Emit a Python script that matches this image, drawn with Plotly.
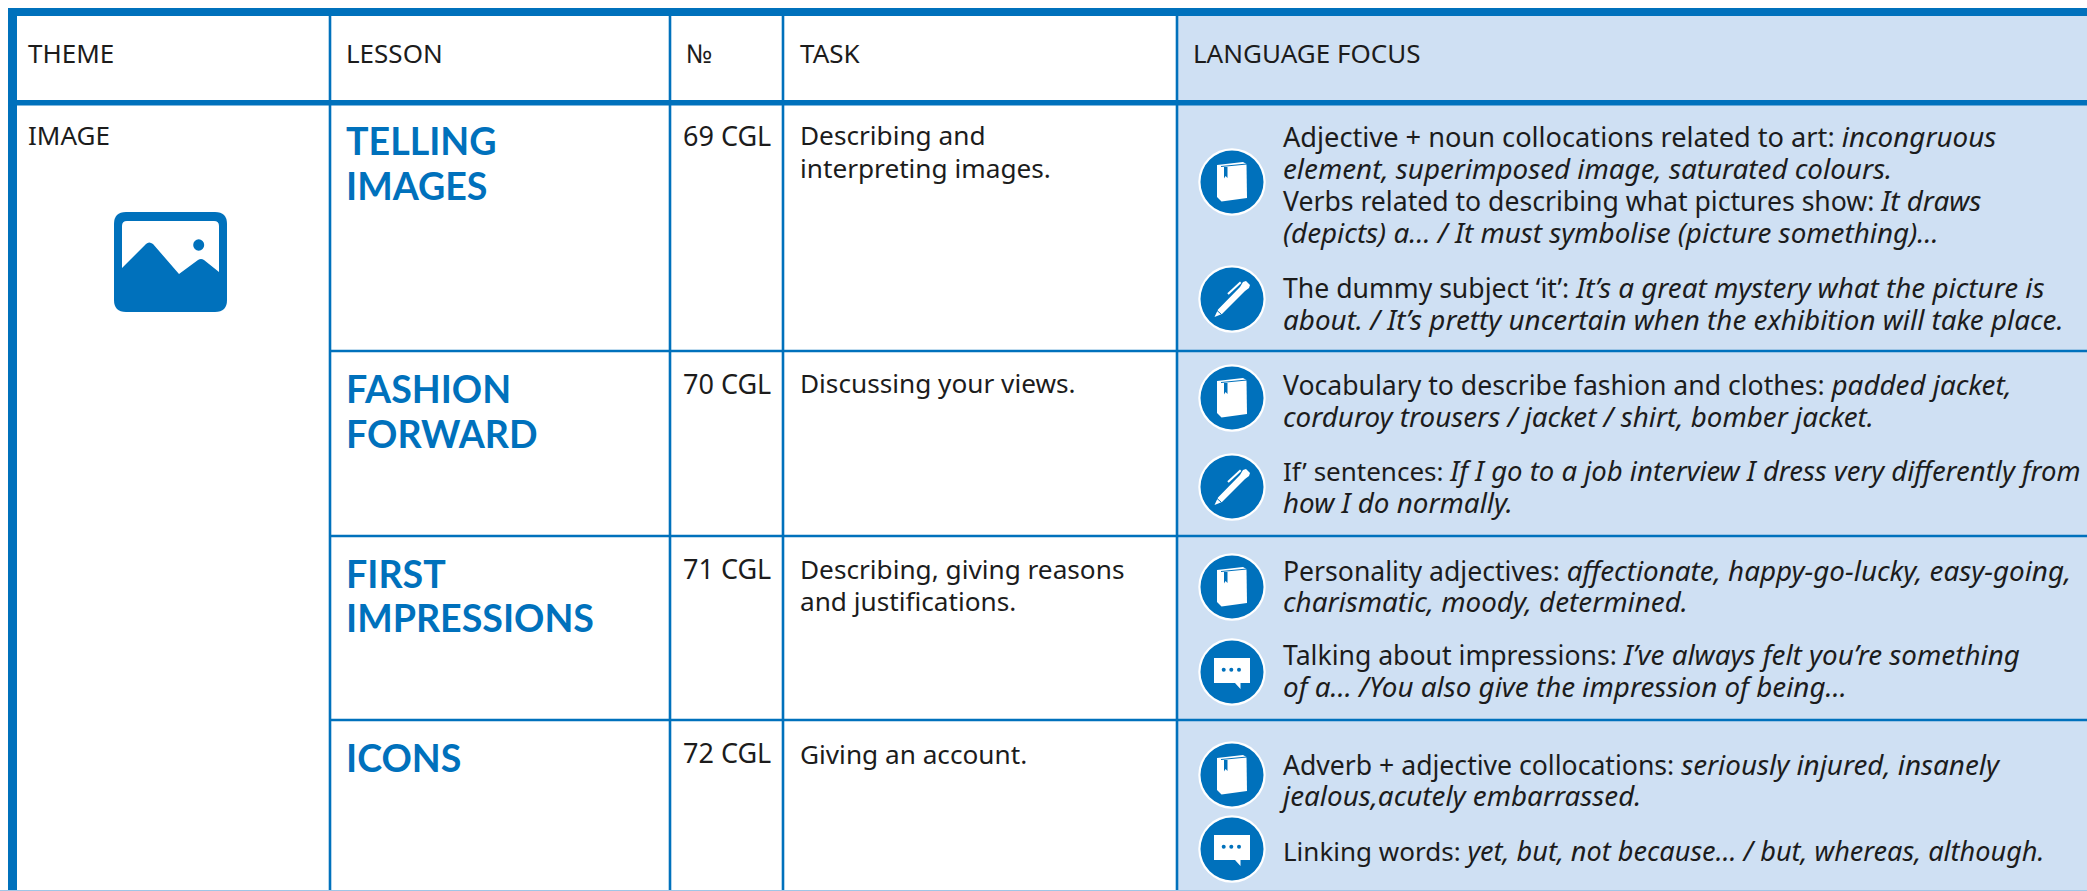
import plotly.graph_objects as go

# ---------- content ----------
HEADERS = ["THEME", "LESSON", "№", "TASK", "LANGUAGE FOCUS"]
THEME = "IMAGE"
LESSON_LINES = ["TELLING", "IMAGES", "FASHION", "FORWARD", "FIRST", "IMPRESSIONS", "ICONS"]
CODES = ["69 CGL", "70 CGL", "71 CGL", "72 CGL"]
TASK_LINES = ["Describing and", "interpreting images.", "Discussing your views.",
              "Describing, giving reasons", "and justifications.", "Giving an account."]
FOCUS_LINES = [
    "Adjective + noun collocations related to art: <i>incongruous</i>",
    "<i>element, superimposed image, saturated colours.</i>",
    "Verbs related to describing what pictures show: <i>It draws</i>",
    "<i>(depicts) a… / It must symbolise (picture something)…</i>",
    "The dummy subject ‘it’: <i>It’s a great mystery what the picture is</i>",
    "<i>about. / It’s pretty uncertain when the exhibition will take place.</i>",
    "Vocabulary to describe fashion and clothes: <i>padded jacket,</i>",
    "<i>corduroy trousers / jacket / shirt, bomber jacket.</i>",
    "If’ sentences: <i>If I go to a job interview I dress very differently from</i>",
    "<i>how I do normally.</i>",
    "Personality adjectives: <i>affectionate, happy-go-lucky, easy-going,</i>",
    "<i>charismatic, moody, determined.</i>",
    "Talking about impressions: <i>I’ve always felt you’re something</i>",
    "<i>of a… /You also give the impression of being…</i>",
    "Adverb + adjective collocations: <i>seriously injured, insanely</i>",
    "<i>jealous,acutely embarrassed.</i>",
    "Linking words: <i>yet, but, not because… / but, whereas, although.</i>",
]
ICON_KINDS = ["book", "pen", "book", "pen", "book", "bubble", "book", "bubble"]

# ---------- layout ----------
W, H = 2087, 891
BLUE, PALE, INK = "#0071bc", "#cfe0f3", "#1c1c1c"
COL_X = [330, 670, 783, 1177]
ROW_Y = [351, 536, 720]
HEADER_X = [26, 344, 684, 798, 1191]
CODE_X = 681
BODY_X = 1281
LESSON_Y = [140, 185, 388, 433, 573, 617, 757]
CODE_Y = [135, 383, 568, 752]
TASK_Y = [135, 168, 383, 569, 601, 754]
FOCUS_Y = [136, 168, 200, 232, 286.5, 318.5, 384, 416, 470, 502, 570, 601, 654, 686, 764, 795, 850]
FOCUS_DX = [0] * 15 + [-4, 0]
FOCUS_SIZE = [27.2] + [26.6] * 7 + [26.0] + [26.6] * 7 + [26.0]
FOCUS_ITALIC = [27.8] * 8 + [27.5] + [27.8] * 7 + [27.1]
ICON_X = 1232
ICON_Y = [182, 299, 398, 487, 587, 672, 775, 849]
BODY_FONT = "Noto Sans"
HEADER_SIZE = 26
TASK_SIZE = 26.2
CODE_SIZE = 27
LESSON_SIZE = 37.6

fig = go.Figure()
shapes, notes = [], []


def rect(x0, y0, x1, y1, color, layer="above"):
    shapes.append(dict(type="rect", xref="x", yref="y", x0=x0, y0=y0, x1=x1, y1=y1,
                       fillcolor=color, line_width=0, layer=layer))


def path(points, color, cx=0, cy=0, closed=True, width=0):
    d = "M" + " L".join(f"{cx + px},{cy + py}" for px, py in points) + (" Z" if closed else "")
    shapes.append(dict(type="path", xref="x", yref="y", path=d,
                       fillcolor=color if closed else None,
                       line=dict(color=color, width=width)))


def disc(cx, cy, r, color, ry=None):
    ry = r if ry is None else ry
    shapes.append(dict(type="circle", xref="x", yref="y", x0=cx - r, x1=cx + r, y0=cy - ry, y1=cy + ry,
                       fillcolor=color, line_width=0))


def text(x, y, s, size, color=INK, family=BODY_FONT):
    notes.append(dict(x=x, y=y, xref="x", yref="y", text=s, showarrow=False, xanchor="left",
                      yanchor="middle", align="left", font=dict(family=family, size=size, color=color)))


# panels and rules
rect(COL_X[3], 16, W, H, PALE, "below")
rect(8, 8, W, 16, BLUE)
rect(8, 8, 17, H, BLUE)
rect(8, 100, W, 105.5, BLUE)
for x in COL_X:
    rect(x - 1.3, 16, x + 1.3, H, BLUE)
for y in ROW_Y:
    rect(COL_X[0], y - 1.3, W, y + 1.3, BLUE)
rect(0, 890, W, H, "#9fc6e6")

# theme picture
shapes.append(dict(type="path", xref="x", yref="y", fillcolor=BLUE, line_width=0,
                   path="M126,212 L215,212 Q227,212 227,224 L227,300 Q227,312 215,312 L126,312 "
                        "Q114,312 114,300 L114,224 Q114,212 126,212 Z"))
shapes.append(dict(type="path", xref="x", yref="y", fillcolor="white", line_width=0,
                   path="M127,221 L214,221 Q219,221 219,226 L219,272 L204,260 Q201,258 198,260 L179,274 "
                        "L153,244 Q149,241 146,244 L122,268 L122,226 Q122,221 127,221 Z"))
disc(198.7, 245, 5.5, BLUE, 5.8)

# line-art glyphs for the language-focus markers
BOOK = [(-15, -17), (11, -20), (14.5, -18), (15, 16), (-10.5, 19.5), (-15, 15)]
BOOK_LINE = [(-11, -15.5), (15, -18)]
BOOK_MARK = [(-8, -15), (-8, -3.5), (-6.5, -6), (-4.5, -4), (-4.5, -15)]
PEN = [(-17.5, 18), (-14, 10.5), (8, -12), (11, -17), (14, -18), (18, -14), (17, -11), (13, -8), (-10, 15)]
PEN_CLIP = [(-4, -5), (8.7, -16.7)]
BUBBLE = [(-18, -14), (18, -14), (18, 11), (8.5, 11), (8.5, 17), (3, 11), (-18, 11)]

for kind, cy in zip(ICON_KINDS, ICON_Y):
    disc(ICON_X, cy, 33.7, "white")
    disc(ICON_X, cy, 31.5, BLUE)
    if kind == "book":
        path(BOOK, "white", ICON_X, cy)
        path(BOOK_LINE, BLUE, ICON_X, cy, closed=False, width=1)
        path(BOOK_MARK, BLUE, ICON_X, cy)
    elif kind == "pen":
        path(PEN, "white", ICON_X, cy)
        path(PEN_CLIP, "white", ICON_X, cy, closed=False, width=2)
        path([(-15.5, 11), (-10.5, 15.5)], BLUE, ICON_X, cy, closed=False, width=1)
    else:
        path(BUBBLE, "white", ICON_X, cy)
        for dx in (-8.3, -0.7, 7):
            disc(ICON_X + dx, cy - 2.3, 2, BLUE)

# text
for x, s in zip(HEADER_X, HEADERS):
    text(x, 53, s, HEADER_SIZE)
text(HEADER_X[0], 135, THEME, HEADER_SIZE)
for y, s in zip(LESSON_Y, LESSON_LINES):
    text(HEADER_X[1], y, f"<b>{s}</b>", LESSON_SIZE, BLUE, "Lato")
for y, s in zip(CODE_Y, CODES):
    text(CODE_X, y, s, CODE_SIZE)
for y, s in zip(TASK_Y, TASK_LINES):
    text(HEADER_X[3], y, s, TASK_SIZE)
for y, dx, size, isize, s in zip(FOCUS_Y, FOCUS_DX, FOCUS_SIZE, FOCUS_ITALIC, FOCUS_LINES):
    text(BODY_X + dx, y, s.replace("<i>", f"<i style='font-size:{isize}px'>"), size)

fig.update_layout(width=W, height=H, margin=dict(l=0, r=0, t=0, b=0), showlegend=False,
                  paper_bgcolor="white", plot_bgcolor="white", shapes=shapes, annotations=notes,
                  xaxis=dict(range=[0, W], visible=False, fixedrange=True),
                  yaxis=dict(range=[H, 0], visible=False, fixedrange=True))
fig.write_html("out.html", config=dict(displayModeBar=False),
               post_script="document.body.style.margin='0';document.body.style.overflow='hidden';")
